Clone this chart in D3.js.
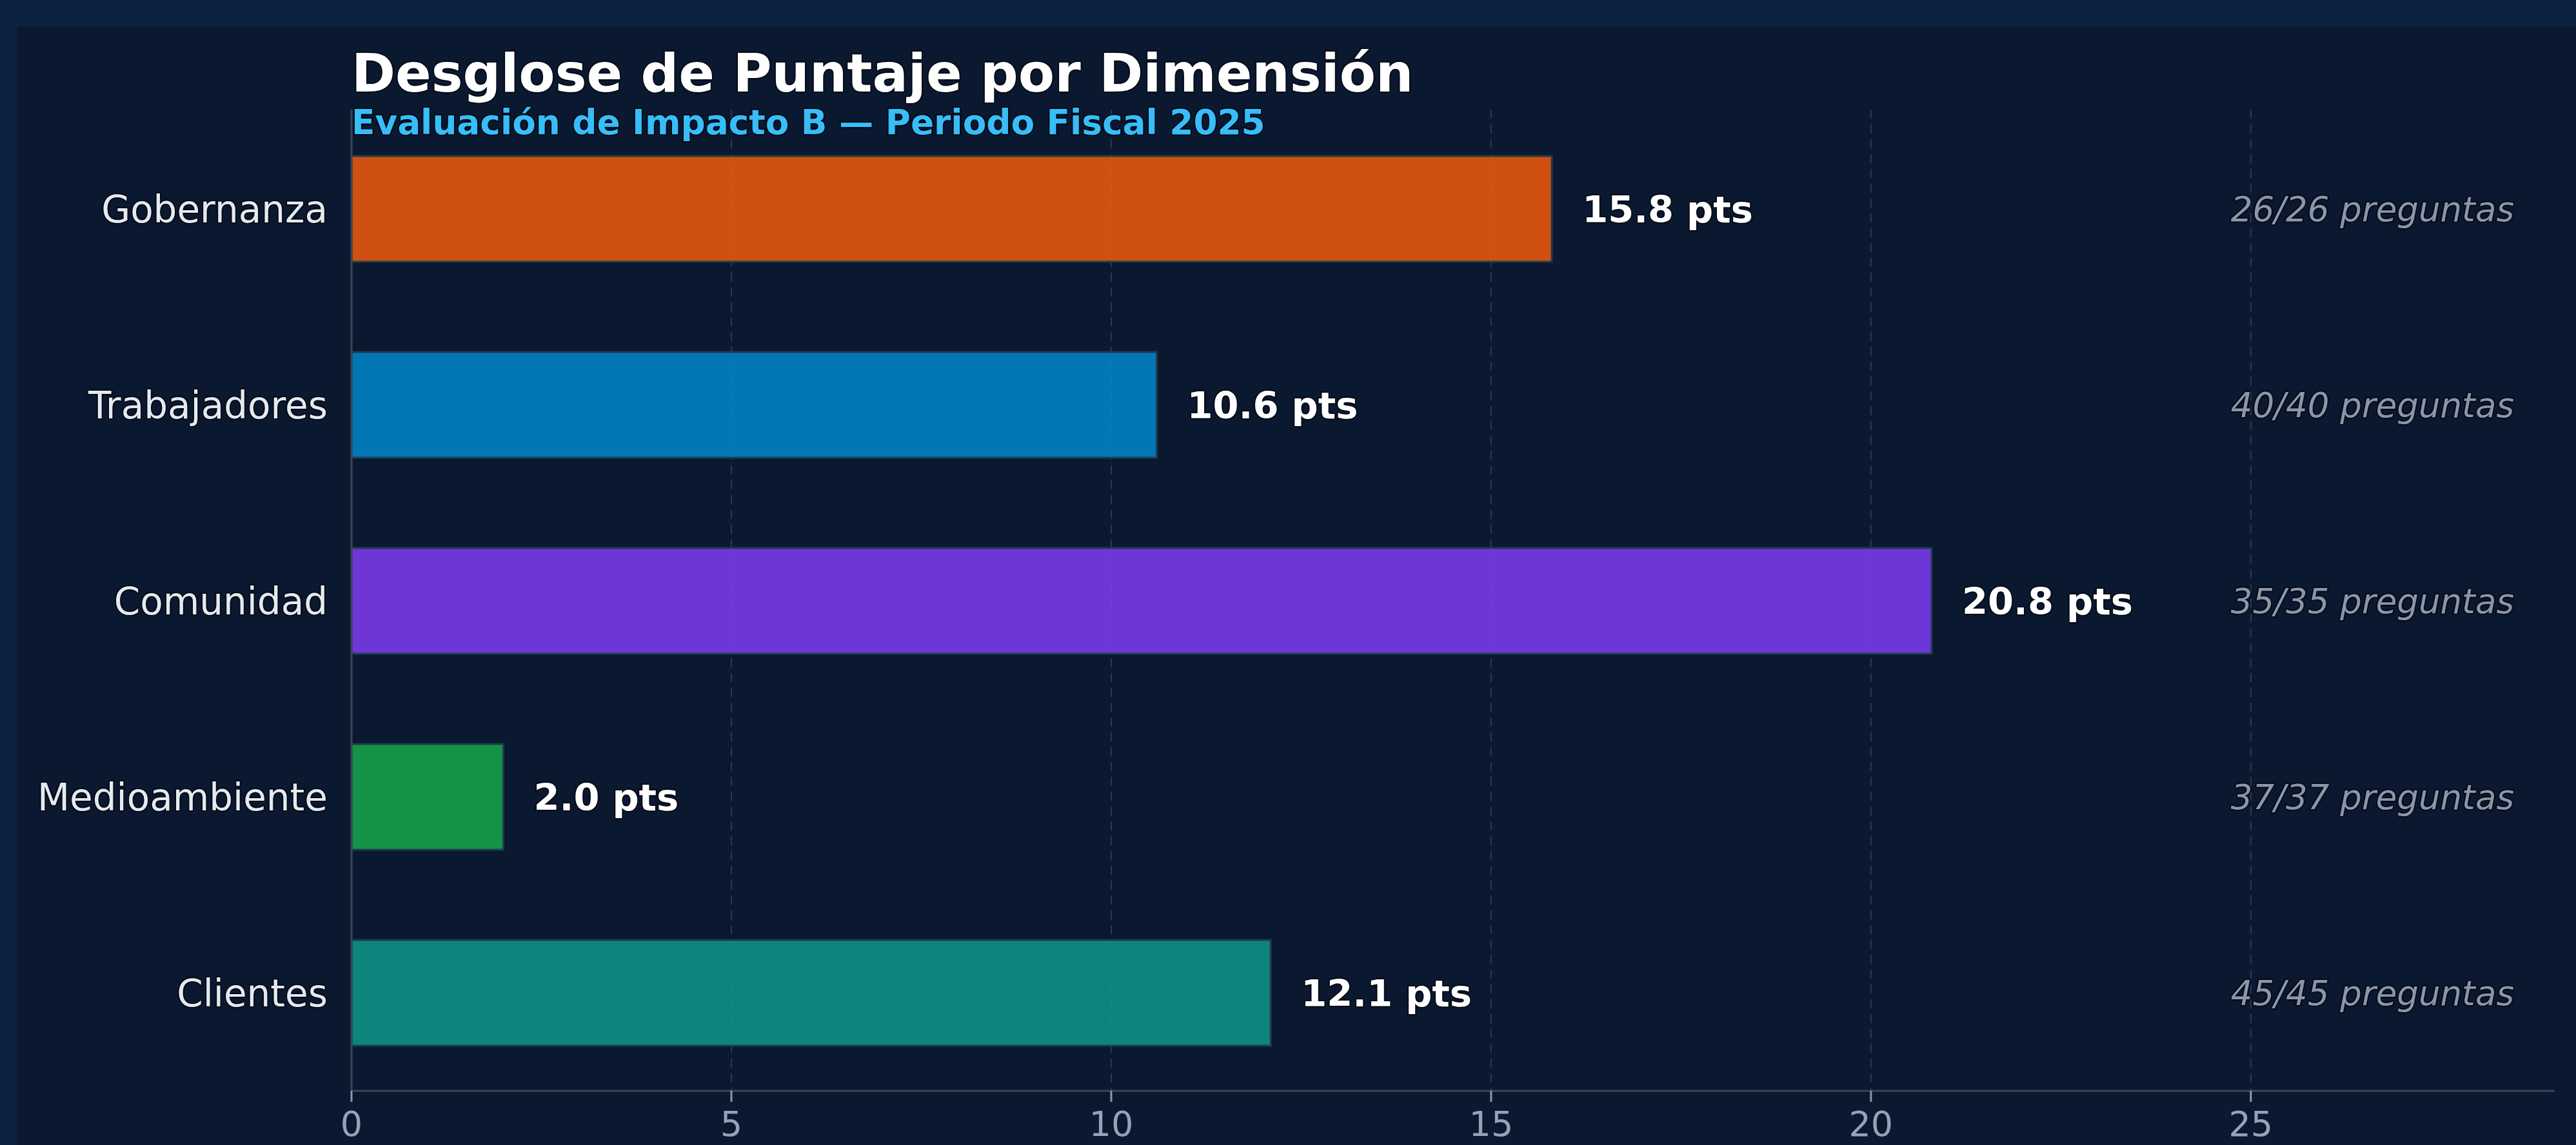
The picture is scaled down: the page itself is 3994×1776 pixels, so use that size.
<!DOCTYPE html>
<head>
	<meta charset="utf-8">
	<style>
		html, body {
			margin: 0;
			padding: 0;
			background: #0c2240;
		}

		svg {
			display: block;
			font-family: "DejaVu Sans", sans-serif;
		}

		svg .halo {
			paint-order: stroke;
			stroke: rgba(0, 0, 0, 0.55);
			stroke-width: 4px;
			stroke-linejoin: round;
		}
	</style>
</head>

<body>
	<svg width="3994" height="1776" viewBox="0 0 3994 1776"></svg>

	<script src="https://d3js.org/d3.v7.min.js"></script>
	<script>

		var categories = ["Gobernanza", "Trabajadores", "Comunidad", "Medioambiente", "Clientes"];
		var scores = [15.8, 10.6, 20.8, 2.0, 12.1];
		var answered = [26, 40, 35, 37, 45];
		var questions = [26, 40, 35, 37, 45];
		var xTicks = [0, 5, 10, 15, 20, 25];
		var colors = ["#ea580c", "#0284c7", "#7c3aed", "#16a34a", "#0d9488"];

		var svg = d3.select("svg");

		// panel
		svg.append("rect")
			.attr("x", 26).attr("y", 41)
			.attr("width", 3994 - 26).attr("height", 1776 - 41)
			.attr("fill", "#0a1830");

		var x = d3.scaleLinear()
			.domain([0, 29])
			.range([545, 3961]);

		var y = d3.scaleBand()
			.domain(categories)
			.range([172, 1692])
			.paddingInner(0.46)
			.paddingOuter(0.23);

		var plotTop = 170, plotBottom = 1692;

		// grid
		svg.selectAll("line.grid")
			.data(xTicks.slice(1))
			.enter().append("line")
			.attr("class", "grid")
			.attr("x1", x).attr("x2", x)
			.attr("y1", plotTop).attr("y2", plotBottom)
			.attr("stroke", "#2b3a50")
			.attr("stroke-width", 2)
			.attr("stroke-dasharray", "14,9");

		// bars
		svg.selectAll("rect.bar")
			.data(scores)
			.enter().append("rect")
			.attr("class", "bar")
			.attr("x", x(0))
			.attr("y", function (d, i) { return y(categories[i]); })
			.attr("width", function (d) { return x(d) - x(0); })
			.attr("height", y.bandwidth())
			.attr("fill", function (d, i) { return colors[i]; })
			.attr("fill-opacity", 0.88)
			.attr("stroke", "#1d3b4a")
			.attr("stroke-width", 3);

		// spines
		svg.append("line")
			.attr("x1", x(0)).attr("x2", x(0))
			.attr("y1", plotTop).attr("y2", plotBottom)
			.attr("stroke", "#3a4658").attr("stroke-width", 3);
		svg.append("line")
			.attr("x1", x(0)).attr("x2", x.range()[1])
			.attr("y1", plotBottom).attr("y2", plotBottom)
			.attr("stroke", "#3a4658").attr("stroke-width", 3);

		// x axis ticks
		svg.selectAll("line.tick")
			.data(xTicks)
			.enter().append("line")
			.attr("class", "tick")
			.attr("x1", x).attr("x2", x)
			.attr("y1", plotBottom).attr("y2", plotBottom + 17)
			.attr("stroke", "#8a99ae").attr("stroke-width", 3);

		svg.selectAll("text.tick")
			.data(xTicks)
			.enter().append("text")
			.attr("class", "tick")
			.attr("x", x)
			.attr("y", 1762)
			.attr("text-anchor", "middle")
			.attr("font-size", 54)
			.attr("fill", "#94a3b8")
			.text(String);

		// category labels
		svg.selectAll("text.cat")
			.data(categories)
			.enter().append("text")
			.attr("class", "cat halo")
			.attr("x", 508)
			.attr("y", function (d) { return y(d) + y.bandwidth() / 2; })
			.attr("dy", "0.36em")
			.attr("text-anchor", "end")
			.attr("font-size", 58)
			.attr("fill", "#e5eaf1")
			.text(String);

		// value labels
		svg.selectAll("text.value")
			.data(scores)
			.enter().append("text")
			.attr("class", "value halo")
			.attr("x", function (d) { return x(d) + 47; })
			.attr("y", function (d, i) { return y(categories[i]) + y.bandwidth() / 2; })
			.attr("dy", "0.36em")
			.attr("font-size", 57.5)
			.attr("font-weight", "bold")
			.attr("fill", "#ffffff")
			.text(function (d) { return d.toFixed(1) + " pts"; });

		// question counts
		svg.selectAll("text.count")
			.data(answered)
			.enter().append("text")
			.attr("class", "count halo")
			.attr("x", 3898)
			.attr("y", function (d, i) { return y(categories[i]) + y.bandwidth() / 2; })
			.attr("dy", "0.36em")
			.attr("text-anchor", "end")
			.attr("font-size", 53)
			.attr("font-style", "italic")
			.attr("fill", "#8b96a9")
			.text(function (d, i) { return d + "/" + questions[i] + " preguntas"; });

		// titles
		svg.append("text")
			.attr("class", "halo")
			.attr("x", 545).attr("y", 142)
			.attr("font-size", 82)
			.attr("font-weight", "bold")
			.attr("fill", "#ffffff")
			.text("Desglose de Puntaje por Dimensión");

		svg.append("text")
			.attr("class", "halo")
			.attr("x", 545).attr("y", 208)
			.attr("font-size", 53.3)
			.attr("font-weight", "bold")
			.attr("fill", "#38bdf8")
			.text("Evaluación de Impacto B — Periodo Fiscal 2025");

	</script>
</body>
